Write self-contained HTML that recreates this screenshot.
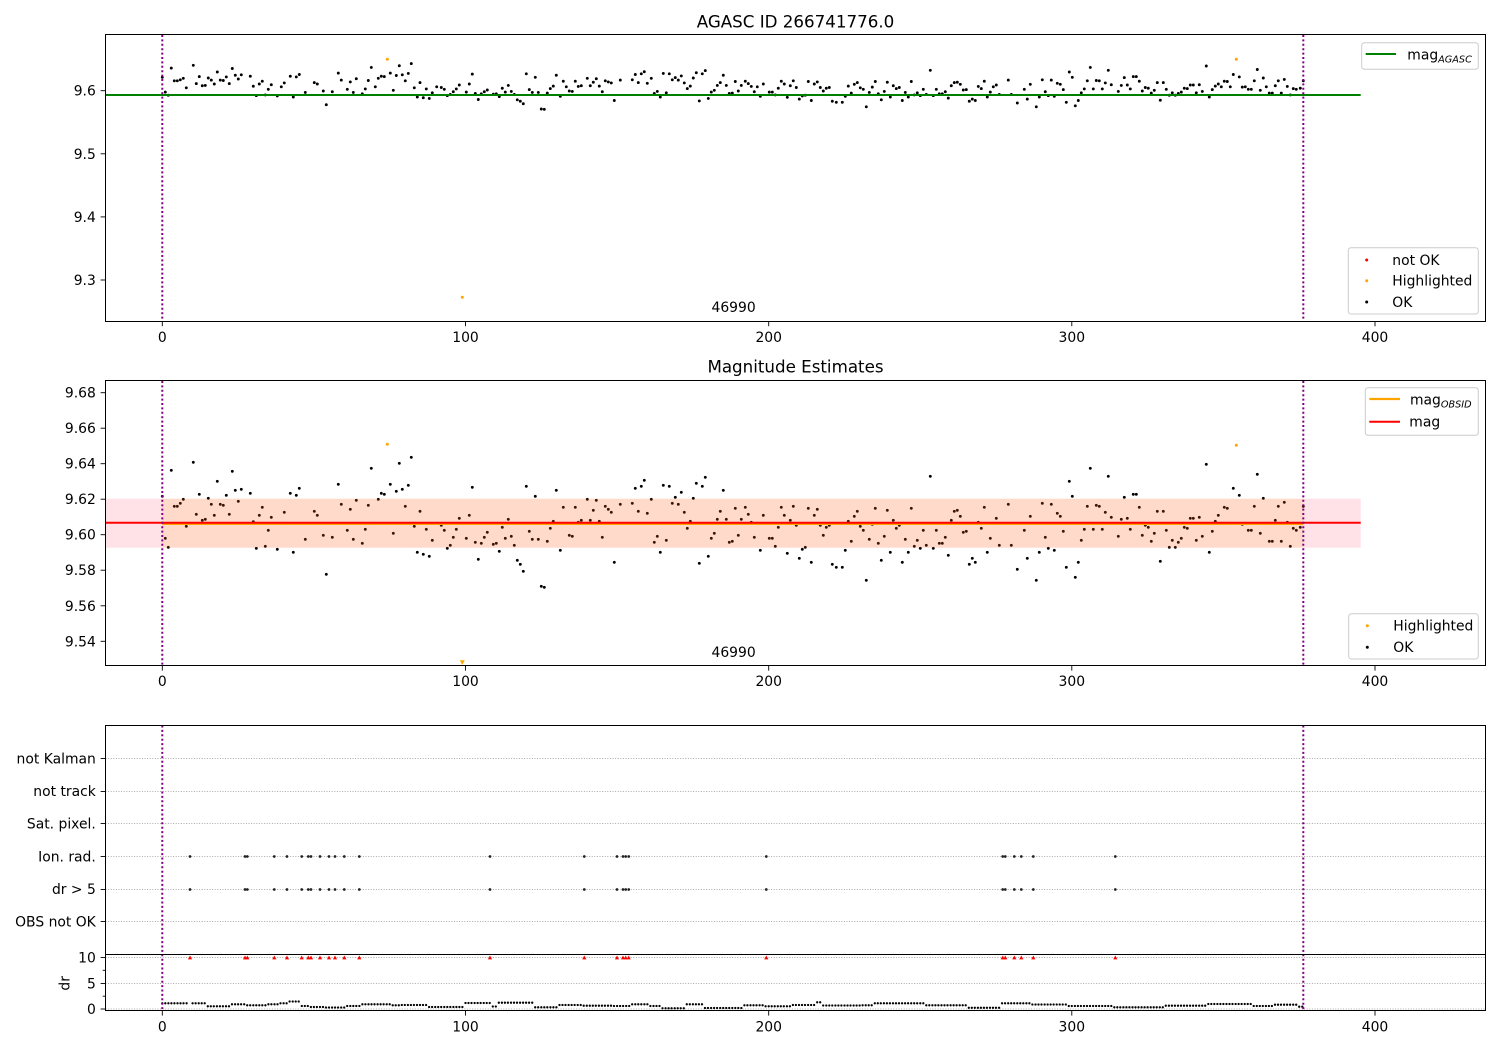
<!DOCTYPE html>
<html><head><meta charset="utf-8">
<style>
html,body{margin:0;padding:0;background:#fff}
svg{display:block;font-family:"DejaVu Sans","Liberation Sans",sans-serif}
</style></head><body>
<svg id="s" width="1500" height="1050" viewBox="0 0 1500 1050" xmlns="http://www.w3.org/2000/svg">
<rect width="1500" height="1050" fill="#fff"/>

<!-- ================= PANEL 1 ================= -->
<text x="795.5" y="27.3" font-size="16.7" text-anchor="middle">AGASC ID 266741776.0</text>
<g id="d1"></g>
<line x1="105.5" y1="95" x2="1360.7" y2="95" stroke="#008000" stroke-width="2"/>
<g fill="#ffa500">
<circle cx="387.3" cy="59.2" r="1.5"/><circle cx="462.3" cy="297.3" r="1.5"/><circle cx="1236.3" cy="59.3" r="1.5"/>
</g>
<g stroke="#800080" stroke-width="2" stroke-dasharray="2 2.4">
<line x1="162.3" y1="35" x2="162.3" y2="321"/><line x1="1303.3" y1="35" x2="1303.3" y2="321"/>
</g>
<text x="711.5" y="312" font-size="13.9">46990</text>
<rect x="105.5" y="34.5" width="1380" height="287" fill="none" stroke="#000" stroke-width="1"/>
<g stroke="#000" stroke-width="0.9">
<line x1="100.6" y1="90.7" x2="105.5" y2="90.7"/><line x1="100.6" y1="153.8" x2="105.5" y2="153.8"/>
<line x1="100.6" y1="216.9" x2="105.5" y2="216.9"/><line x1="100.6" y1="280" x2="105.5" y2="280"/>
<line x1="162.3" y1="321.5" x2="162.3" y2="326.2"/><line x1="465.5" y1="321.5" x2="465.5" y2="326.2"/>
<line x1="768.7" y1="321.5" x2="768.7" y2="326.2"/><line x1="1071.8" y1="321.5" x2="1071.8" y2="326.2"/>
<line x1="1375" y1="321.5" x2="1375" y2="326.2"/>
</g>
<g font-size="13.9" text-anchor="end">
<text x="95.8" y="95.7">9.6</text><text x="95.8" y="158.8">9.5</text><text x="95.8" y="221.9">9.4</text><text x="95.8" y="285">9.3</text>
</g>
<g font-size="13.9" text-anchor="middle">
<text x="162.3" y="341.8">0</text><text x="465.5" y="341.8">100</text><text x="768.7" y="341.8">200</text><text x="1071.8" y="341.8">300</text><text x="1375" y="341.8">400</text>
</g>
<!-- legends panel 1 -->
<rect x="1361.7" y="42.7" width="116.6" height="26.6" rx="2.8" fill="#fff" fill-opacity="0.8" stroke="#ccc" stroke-width="1"/>
<line x1="1365.7" y1="54" x2="1396" y2="54" stroke="#008000" stroke-width="2"/>
<text x="1407.3" y="59.3" font-size="13.9">mag<tspan font-size="9.7" font-style="italic" dy="3.4">AGASC</tspan></text>
<rect x="1348.3" y="247.7" width="130" height="66.3" rx="2.8" fill="#fff" fill-opacity="0.8" stroke="#ccc" stroke-width="1"/>
<circle cx="1366.7" cy="260" r="1.5" fill="#ff0000"/>
<circle cx="1366.7" cy="280.7" r="1.5" fill="#ffa500"/>
<circle cx="1366.7" cy="302" r="1.5" fill="#000"/>
<g font-size="13.9">
<text x="1392.3" y="264.8">not OK</text><text x="1392.3" y="285.5">Highlighted</text><text x="1392.3" y="306.8">OK</text>
</g>

<!-- ================= PANEL 2 ================= -->
<text x="795.5" y="372.3" font-size="16.7" text-anchor="middle">Magnitude Estimates</text>
<g id="d2"></g>
<rect x="105.5" y="498.7" width="1255.2" height="49" fill="rgb(255,20,60)" fill-opacity="0.12"/>
<rect x="162.3" y="498.7" width="1141" height="49" fill="#ffa500" fill-opacity="0.12"/>
<line x1="162.3" y1="524" x2="1303.3" y2="524" stroke="#ffa500" stroke-width="2"/>
<line x1="105.5" y1="522.7" x2="1360.7" y2="522.7" stroke="#ff0000" stroke-width="2"/>
<g fill="#ffa500">
<circle cx="387.3" cy="444.3" r="1.5"/><circle cx="1236.3" cy="445.3" r="1.5"/>
<polygon points="459.8,660.3 464.8,660.3 462.3,665"/>
</g>
<g stroke="#800080" stroke-width="2" stroke-dasharray="2 2.4">
<line x1="162.3" y1="381" x2="162.3" y2="665.5"/><line x1="1303.3" y1="381" x2="1303.3" y2="665.5"/>
</g>
<text x="711.5" y="657" font-size="13.9">46990</text>
<rect x="105.5" y="380.5" width="1380" height="285" fill="none" stroke="#000" stroke-width="1"/>
<g stroke="#000" stroke-width="0.9">
<line x1="100.6" y1="392.7" x2="105.5" y2="392.7"/><line x1="100.6" y1="428.2" x2="105.5" y2="428.2"/>
<line x1="100.6" y1="463.7" x2="105.5" y2="463.7"/><line x1="100.6" y1="499.2" x2="105.5" y2="499.2"/>
<line x1="100.6" y1="534.7" x2="105.5" y2="534.7"/><line x1="100.6" y1="570.2" x2="105.5" y2="570.2"/>
<line x1="100.6" y1="605.8" x2="105.5" y2="605.8"/><line x1="100.6" y1="641.3" x2="105.5" y2="641.3"/>
<line x1="162.3" y1="665.5" x2="162.3" y2="670.6"/><line x1="465.5" y1="665.5" x2="465.5" y2="670.6"/>
<line x1="768.7" y1="665.5" x2="768.7" y2="670.6"/><line x1="1071.8" y1="665.5" x2="1071.8" y2="670.6"/>
<line x1="1375" y1="665.5" x2="1375" y2="670.6"/>
</g>
<g font-size="13.9" text-anchor="end">
<text x="95.8" y="397.7">9.68</text><text x="95.8" y="433.2">9.66</text><text x="95.8" y="468.7">9.64</text>
<text x="95.8" y="504.2">9.62</text><text x="95.8" y="539.7">9.60</text><text x="95.8" y="575.2">9.58</text>
<text x="95.8" y="610.8">9.56</text><text x="95.8" y="646.3">9.54</text>
</g>
<g font-size="13.9" text-anchor="middle">
<text x="162.3" y="686.2">0</text><text x="465.5" y="686.2">100</text><text x="768.7" y="686.2">200</text><text x="1071.8" y="686.2">300</text><text x="1375" y="686.2">400</text>
</g>
<rect x="1365.3" y="387.7" width="113" height="47.6" rx="2.8" fill="#fff" fill-opacity="0.8" stroke="#ccc" stroke-width="1"/>
<line x1="1369.3" y1="399" x2="1400" y2="399" stroke="#ffa500" stroke-width="2.2"/>
<line x1="1369.3" y1="421.7" x2="1400" y2="421.7" stroke="#ff0000" stroke-width="2"/>
<text x="1410" y="404.3" font-size="13.9">mag<tspan font-size="9.7" font-style="italic" dy="3.4">OBSID</tspan></text>
<text x="1409.3" y="426.7" font-size="13.9">mag</text>
<rect x="1348.7" y="613.7" width="129.6" height="45.3" rx="2.8" fill="#fff" fill-opacity="0.8" stroke="#ccc" stroke-width="1"/>
<circle cx="1367.3" cy="625.7" r="1.5" fill="#ffa500"/>
<circle cx="1367.3" cy="647.3" r="1.5" fill="#000"/>
<g font-size="13.9">
<text x="1393.3" y="630.5">Highlighted</text><text x="1393.3" y="652.1">OK</text>
</g>

<!-- ================= PANEL 3 ================= -->
<g stroke="#aaaaaa" stroke-width="1" stroke-dasharray="1 1.6">
<line x1="105.5" y1="758.5" x2="1485.5" y2="758.5"/>
<line x1="105.5" y1="791.5" x2="1485.5" y2="791.5"/>
<line x1="105.5" y1="823.5" x2="1485.5" y2="823.5"/>
<line x1="105.5" y1="856.5" x2="1485.5" y2="856.5"/>
<line x1="105.5" y1="889.5" x2="1485.5" y2="889.5"/>
<line x1="105.5" y1="921.5" x2="1485.5" y2="921.5"/>
<line x1="105.5" y1="957.5" x2="1485.5" y2="957.5"/>
<line x1="105.5" y1="983.5" x2="1485.5" y2="983.5"/>
<line x1="105.5" y1="1009" x2="1485.5" y2="1009"/>
</g>
<g id="d3"></g>
<g stroke="#800080" stroke-width="2" stroke-dasharray="2 2.4">
<line x1="162.3" y1="725.5" x2="162.3" y2="1010.5"/><line x1="1303.3" y1="725.5" x2="1303.3" y2="1010.5"/>
</g>
<rect x="105.5" y="725.5" width="1380" height="229" fill="none" stroke="#000" stroke-width="1"/>
<rect x="105.5" y="954.5" width="1380" height="56" fill="none" stroke="#000" stroke-width="1"/>
<g stroke="#000" stroke-width="0.9">
<line x1="100.6" y1="758.5" x2="105.5" y2="758.5"/><line x1="100.6" y1="791.5" x2="105.5" y2="791.5"/>
<line x1="100.6" y1="823.5" x2="105.5" y2="823.5"/><line x1="100.6" y1="856.5" x2="105.5" y2="856.5"/>
<line x1="100.6" y1="889.5" x2="105.5" y2="889.5"/><line x1="100.6" y1="921.5" x2="105.5" y2="921.5"/>
<line x1="100.6" y1="957.5" x2="105.5" y2="957.5"/><line x1="100.6" y1="983.5" x2="105.5" y2="983.5"/>
<line x1="100.6" y1="1009" x2="105.5" y2="1009"/>
<line x1="102.7" y1="970.3" x2="105.5" y2="970.3"/><line x1="102.7" y1="996.2" x2="105.5" y2="996.2"/>
<line x1="162.3" y1="1010.5" x2="162.3" y2="1015.6"/><line x1="465.5" y1="1010.5" x2="465.5" y2="1015.6"/>
<line x1="768.7" y1="1010.5" x2="768.7" y2="1015.6"/><line x1="1071.8" y1="1010.5" x2="1071.8" y2="1015.6"/>
<line x1="1375" y1="1010.5" x2="1375" y2="1015.6"/>
</g>
<g font-size="13.9" text-anchor="end">
<text x="95.8" y="763.4">not Kalman</text>
<text x="95.8" y="796.1">not track</text>
<text x="95.8" y="828.7">Sat. pixel.</text>
<text x="95.8" y="861.4">Ion. rad.</text>
<text x="95.8" y="894">dr &gt; 5</text>
<text x="95.8" y="926.7">OBS not OK</text>
<text x="95.8" y="962.3">10</text>
<text x="95.8" y="988.3">5</text>
<text x="95.8" y="1014">0</text>
</g>
<text transform="translate(69.5,983.3) rotate(-90)" font-size="13.9" text-anchor="middle">dr</text>
<g font-size="13.9" text-anchor="middle">
<text x="162.3" y="1031.3">0</text><text x="465.5" y="1031.3">100</text><text x="768.7" y="1031.3">200</text><text x="1071.8" y="1031.3">300</text><text x="1375" y="1031.3">400</text>
</g>
</svg>
<script>
(function(){
var NS="http://www.w3.org/2000/svg";
function circ(g,x,y,r,f){var e=document.createElementNS(NS,"circle");e.setAttribute("cx",x.toFixed(1));e.setAttribute("cy",y.toFixed(1));e.setAttribute("r",r);e.setAttribute("fill",f);g.appendChild(e);}
var Z=[
[100,"187,364 196,490 205,517 214,286 223,394 232,394 241,385 250,373 259,454 280,262 289,418 298,358 307,436 316,433 325,370 334,388 343,421 352,319 361,388 370,391 379,361 388,418 397,289 406,346 415,379 424,343 451,355 460,440 469,520 478,421 487,397 496,514 505,466 514,427 532,523 544,445 553,412 571,355 580,532 589,361 598,340 616,493 643,409 652,421 670,481 679,598 697,487 715,328 724,388 742,466 751,403 760,493 769,376 787,505 796,463 805,391 814,280 826,445 835,373 844,355 853,358 871,328 880,475 889,349 898,265 907,343 916,394 925,331 934,247 943,454 952,532 960,409"],
[410,"40,538 49,463 58,544 67,496 80,445 94,451 103,466 112,520 121,511 130,487 139,463 148,430 169,490 178,421 187,337 196,502 205,553 214,505 223,487 232,472 250,508 259,505 268,529 277,457 286,490 295,433 304,484 313,511 322,556 331,568 340,589 349,334 358,469 367,493 376,364 385,493 394,634 403,637 412,499 421,460 430,439 439,346 451,526 460,397 469,445 478,481 487,484 496,397 505,442 514,436 532,373 541,436 550,406 559,376 568,439 577,487 586,394 595,403 604,412 613,562 631,388 667,385 676,340 685,409 694,334 703,316 712,415 724,373 733,502 742,484 751,532 760,331 769,496 778,334 787,385 796,367 805,388 814,352 823,412 832,460 841,439 850,370 859,325 868,565 877,334 886,307 895,544 904,490 913,475 922,433 931,409 940,346 949,433 958,502"],
[720,"37,499 46,400 55,481 64,433 76,397 85,418 94,442 103,487 112,445 121,526 130,421 148,490 157,490 166,514 175,457 184,397 193,421 202,535 211,436 220,394 229,451 238,550 247,523 256,517 265,400 274,562 283,421 292,403 301,451 310,481 319,457 328,451 337,568 349,577 367,577 376,526 385,439 394,499 403,424 412,409 421,454 430,466 439,616 448,493 457,448 466,400 475,505 484,556 493,484 502,406 511,532 520,436 529,460 538,451 547,562 556,493 565,532 574,400 583,514 592,496 601,520 610,466 619,511 631,304 640,520 649,466 658,505 667,505 676,487 685,541 694,436 703,409 712,406 721,424 730,472 739,469 748,568 757,550 766,562 775,442 784,460 793,397 802,532 811,490 820,445 829,430 838,511 865,388 874,511 892,583 913,466 922,550 931,424"],
[1030,"19,616 28,532 37,385 46,487 55,520 64,388 73,526 82,415 91,424 100,469 109,577 118,319 127,364 136,607 145,562 154,496 163,463 172,394 181,280 190,463 199,391 208,394 217,463 226,412 235,304 244,427 265,484 274,433 283,367 292,430 301,463 310,358 319,358 328,397 337,481 346,451 355,457 364,499 373,475 382,409 391,559 400,409 409,466 418,517 427,496 436,517 445,502 454,490 463,457 472,460 481,430 490,430 499,496 508,427 517,484 529,268 538,532 547,469 556,439 565,421 574,445 583,397 592,400 601,445 610,340 628,361 637,448 646,445 655,466 664,466 673,394 682,298 691,475 700,370 709,445 718,499 727,499 736,436 745,394 754,499 763,382 772,442 781,514 790,460 799,466 811,457 820,394"]
];
var g1=document.getElementById("d1"),g2=document.getElementById("d2"),g3=document.getElementById("d3");
Z.forEach(function(z){var off=z[0];z[1].trim().split(/\s+/).forEach(function(p){var a=p.split(",");var X=off+(+a[0])/3,Y2=375+(+a[1])/3,Y1=-97.37+0.3519*Y2;circ(g1,X,Y1,1.45,"#000");circ(g2,X,Y2,1.45,"#000");});});
// dr series
var seg=[[189,1003.3],[191,-1],[207,1003.3],[230,1006.3],[245,1004.3],[268,1005.3],[278,1004.3],[288,1003.3],[300,1001.5],[310,1006],[325,1007],[345,1007.5],[360,1006],[390,1004.3],[400,1005.3],[427,1005],[463,1007],[490,1003],[497,1006.5],[533,1002.7],[557,1007.3],[583,1005],[613,1005.7],[631,1006],[650,1004.3],[660,1006],[685,1008.3],[703,1004.3],[743,1008],[763,1005.3],[790,1006.3],[816,1005],[823,1002.3],[860,1005.5],[873,1005.3],[925,1003.3],[967,1005.3],[1000,1007.8],[1032,1003.3],[1068,1004.5],[1113,1006],[1163,1007.3],[1208,1005.7],[1253,1004],[1273,1006],[1297,1004.7],[1306,1006.7]];
for(var i=0;i<=376;i++){var X=162.3+3.0318*i;var y=null;for(var k=0;k<seg.length;k++){if(X<=seg[k][0]){y=seg[k][1];break;}}if(y===null||y<0)continue;circ(g3,X,y,1.15,"#000");}
// flags
var F=[190,245,247.3,274.3,287,301.7,308.3,311,320,329,335,344.3,359.3,490,584.3,617,623,625.7,628.7,766.3,1002.7,1005.3,1014.3,1021.3,1033.3,1115.3];
F.forEach(function(X){circ(g3,X,856.5,1.35,"#222");circ(g3,X,889.5,1.35,"#222");var t=document.createElementNS(NS,"polygon");t.setAttribute("points",(X-2.1)+",959.4 "+(X+2.1)+",959.4 "+X+",955.5");t.setAttribute("fill","#ff0000");g3.appendChild(t);});
})();
</script>
</body></html>
